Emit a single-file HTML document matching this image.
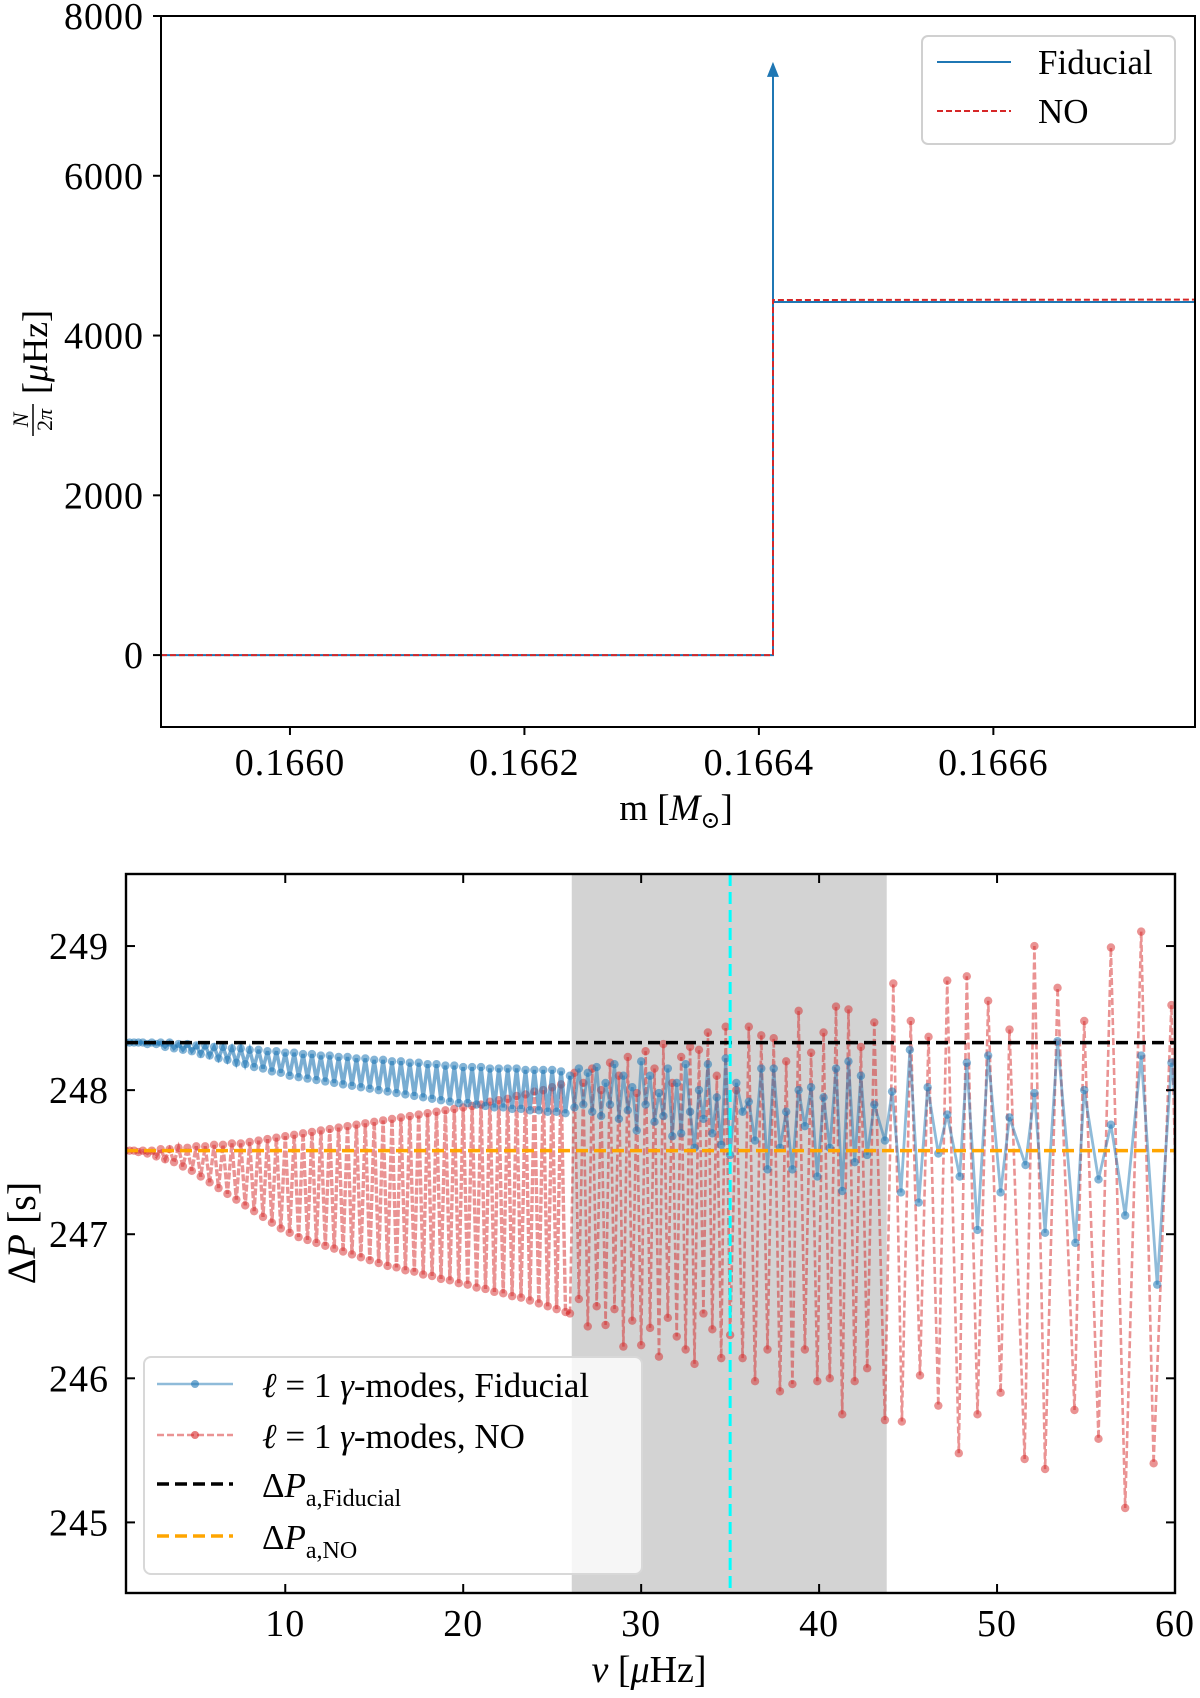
<!DOCTYPE html>
<html><head><meta charset="utf-8">
<style>
html,body{margin:0;padding:0;background:#fff;}
svg{display:block;font-family:"Liberation Serif","DejaVu Serif",serif;}
</style></head>
<body>
<svg id="fig" width="1200" height="1698" viewBox="0 0 1200 1698" xmlns="http://www.w3.org/2000/svg">
  <g id="top"></g>
  <g id="bot"></g>
</svg>
<script>
// ---------- Top panel data ----------
const topXTicks = [0.1660, 0.1662, 0.1664, 0.1666];
const topXTickLabels = ["0.1660", "0.1662", "0.1664", "0.1666"];
const topYTicks = [0, 2000, 4000, 6000, 8000];
const topYTickLabels = ["0", "2000", "4000", "6000", "8000"];
const fidMass = [0.16589, 0.166412, 0.166412, 0.16678];
const fidN = [0, 0, 4420, 4420];
const noMass = [0.16589, 0.166412, 0.166412, 0.16678];
const noN = [0, 0, 4445, 4450];
const fidSpikeMass = [0.166412, 0.166412];
const fidSpikeN = [4420, 7400];

// ---------- Bottom panel data ----------
const botXTicks = [10, 20, 30, 40, 50, 60];
const botXTickLabels = ["10", "20", "30", "40", "50", "60"];
const botYTicks = [245, 246, 247, 248, 249];
const botYTickLabels = ["245", "246", "247", "248", "249"];
const bandRange = [26.1, 43.8];
const cyanNu = 35.0;
const dPaFid = 248.33;
const dPaNO = 247.58;

const nuDense = [1,1.25,1.5,1.75,2,2.25,2.5,2.75,3,3.25,3.5,3.75,4,4.25,4.5,4.75,5,5.25,5.5,5.75,6,6.25,6.5,6.75,7,7.25,7.5,7.75,8,8.25,8.5,8.75,9,9.25,9.5,9.75,10,10.25,10.5,10.75,11,11.25,11.5,11.75,12,12.25,12.5,12.75,13,13.25,13.5,13.75,14,14.25,14.5,14.75,15,15.25,15.5,15.75,16,16.25,16.5,16.75,17,17.25,17.5,17.75,18,18.25,18.5,18.75,19,19.25,19.5,19.75,20,20.25,20.5,20.75,21,21.25,21.5,21.75,22,22.25,22.5,22.75,23,23.25,23.5,23.75,24,24.25,24.5,24.75,25,25.25,25.5,25.75];
const fidDense = [248.33,248.33,248.33,248.33, 248.33,248.32,248.33,248.32, 248.33,248.30,248.33,248.29, 248.32,248.28,248.32,248.27, 248.31,248.25,248.31,248.24, 248.30,248.22,248.30,248.21, 248.29,248.19,248.29,248.18, 248.28,248.16,248.28,248.15, 248.27,248.13,248.27,248.12, 248.26,248.10,248.26,248.09, 248.25,248.08,248.25,248.07, 248.24,248.06,248.24,248.05, 248.23,248.04,248.23,248.03, 248.22,248.02,248.22,248.01, 248.21,248.00,248.21,247.99, 248.20,247.98,248.20,247.97, 248.19,247.96,248.19,247.95, 248.18,247.94,248.18,247.93, 248.17,247.92,248.17,247.91, 248.16,247.91,248.16,247.90, 248.16,247.89,248.15,247.88, 248.15,247.88,248.15,247.87, 248.15,247.87,248.14,247.86, 248.14,247.86,248.14,247.85, 248.14,247.85,248.13,247.84];
const noDense = [247.58,247.58,247.58,247.57, 247.58,247.56,247.58,247.54, 247.59,247.52,247.59,247.50, 247.60,247.47,247.60,247.44, 247.61,247.40,247.61,247.36, 247.62,247.32,247.62,247.28, 247.63,247.24,247.63,247.20, 247.64,247.16,247.65,247.12, 247.66,247.08,247.67,247.04, 247.68,247.01,247.69,246.98, 247.70,246.96,247.71,246.94, 247.72,246.92,247.73,246.90, 247.74,246.88,247.75,246.86, 247.76,246.84,247.77,246.82, 247.78,246.80,247.79,246.78, 247.80,246.77,247.81,246.75, 247.82,246.74,247.83,246.72, 247.84,246.71,247.85,246.69, 247.86,246.68,247.87,246.66, 247.88,246.65,247.89,246.63, 247.90,246.62,247.92,246.60, 247.93,246.59,247.94,246.57, 247.96,246.56,247.97,246.54, 247.99,246.52,248.00,246.50, 248.02,246.48,248.04,246.46];

const nuSparse = [26,26.25,26.5,26.75,27,27.25,27.5,27.75,28,28.25,28.5,28.75,29,29.25,29.5,29.75,30,30.25,30.5,30.75,31,31.25,31.5,31.75,32,32.25,32.5,32.75,33,33.25,33.5,33.75,34,34.25,34.5,34.75,35,35.35,35.7,36.05,36.4,36.75,37.1,37.45,37.8,38.15,38.5,38.85,39.2,39.55,39.9,40.25,40.6,40.95,41.3,41.65,42,42.35,42.7,43.1,43.7,44.17,44.65,45.15,45.67,46.15,46.7,47.2,47.85,48.3,48.9,49.5,50.2,50.7,51.55,52.1,52.7,53.4,54.35,54.9,55.7,56.4,57.2,58.1,58.8,59.8,60.3];
const noSparse = [246.45,248.12,246.55,248.05,246.36,248.15,246.50,248.00,246.37,248.19,246.48,248.10,246.22,248.23,246.40,247.98,246.23,248.27,246.35,248.15,246.15,248.32,246.42,248.05,246.29,248.23,246.20,248.30,246.10,248.28,246.45,248.40,246.34,248.10,246.14,248.44,246.30,248.00,246.14,248.44,245.98,248.38,246.20,248.36,245.91,248.20,245.96,248.55,246.20,248.26,245.98,248.40,246.00,248.58,245.75,248.56,245.98,248.30,246.07,248.47,245.71,248.74,245.70,248.48,246.02,248.37,245.81,248.76,245.48,248.79,245.75,248.62,245.90,248.42,245.44,249.00,245.37,248.71,245.78,248.48,245.58,248.99,245.10,249.10,245.41,248.59,246.00];
const nuFidSparse = [26,26.25,26.5,26.75,27,27.25,27.5,27.75,28,28.25,28.5,28.75,29,29.25,29.5,29.75,30,30.25,30.5,30.75,31,31.25,31.5,31.75,32,32.25,32.5,32.75,33,33.25,33.5,33.75,34,34.25,34.5,34.75,35,35.35,35.7,36.05,36.4,36.75,37.1,37.45,37.8,38.15,38.5,38.85,39.2,39.55,39.9,40.25,40.6,40.95,41.3,41.65,42,42.35,42.7,43.1,43.7,44.1,44.6,45.1,45.6,46.1,46.7,47.2,47.9,48.3,48.9,49.5,50.2,50.7,51.6,52.1,52.7,53.4,54.4,54.9,55.7,56.4,57.2,58.1,59.0,59.8,60.3];
const fidSparse = [248.10,247.88,248.15,247.90,248.12,247.85,248.16,247.82,248.05,247.90,248.18,247.80,248.10,247.86,248.02,247.72,248.20,247.90,248.10,247.78,247.98,247.82,248.15,247.68,248.05,247.70,248.18,247.85,247.60,248.00,247.80,248.18,247.70,247.95,247.62,248.22,247.55,248.05,247.85,247.92,247.65,248.15,247.45,248.15,247.60,247.85,247.45,248.00,247.75,248.02,247.40,247.95,247.60,248.15,247.30,248.20,247.50,248.10,247.55,247.90,247.65,247.99,247.29,248.28,247.22,248.02,247.56,247.83,247.40,248.19,247.03,248.24,247.29,247.81,247.48,247.98,247.01,248.34,246.94,248.00,247.38,247.76,247.13,248.24,246.65,248.19,247.60];

const NS = "http://www.w3.org/2000/svg";
function mk(parent, tag, attrs) {
  const e = document.createElementNS(NS, tag);
  for (const k in attrs) e.setAttribute(k, attrs[k]);
  parent.appendChild(e);
  return e;
}

// ================= TOP PANEL =================
(function(){
  const g = document.getElementById('top');
  const L = 161, R = 1195, T = 16, B = 727;
  const x0 = 0.16589, x1 = 0.166772, y0 = -900, y1 = 8000;
  const sx = v => L + (v - x0) / (x1 - x0) * (R - L);
  const sy = v => B - (v - y0) / (y1 - y0) * (B - T);

  const clip = mk(g, 'clipPath', {id: 'clipTop'});
  mk(clip, 'rect', {x: L, y: T, width: R - L, height: B - T});

  const toPts = (xs, ys) => xs.map((v, i) => sx(v).toFixed(1) + ',' + sy(ys[i]).toFixed(1)).join(' ');
  const fl = mk(g, 'polyline', {points: toPts(fidMass, fidN), fill: 'none', stroke: '#1f77b4', 'stroke-width': 2, 'clip-path': 'url(#clipTop)'});
  
  
  const sp = mk(g, 'polyline', {points: toPts(fidSpikeMass, fidSpikeN), fill: 'none', stroke: '#1f77b4', 'stroke-width': 2});
  
  
  const ax = sx(fidSpikeMass[1]), ay = sy(fidSpikeN[1]);
  const ar = mk(g, 'polygon', {points: `${ax-6},${ay+13} ${ax+6},${ay+13} ${ax},${ay-2}`, fill: '#1f77b4'});
  
  
  const nl = mk(g, 'polyline', {points: toPts(noMass, noN), fill: 'none', stroke: '#d62728', 'stroke-width': 2, 'stroke-dasharray': '6,3', 'clip-path': 'url(#clipTop)'});
  
  

  const fr = mk(g, 'rect', {x: L, y: T, width: R - L, height: B - T, fill: 'none', stroke: '#000', 'stroke-width': 2});
  
  

  topXTicks.forEach((v, i) => {
    const x = sx(v);
    const t = mk(g, 'line', {x1: x, y1: B, x2: x, y2: B + 8, stroke: '#000', 'stroke-width': 2});
    
    
    const lb = mk(g, 'text', {x: x, y: 775, 'text-anchor': 'middle', 'font-size': 38, 'letter-spacing': 1});
    lb.textContent = topXTickLabels[i];
    
    
  });
  topYTicks.forEach((v, i) => {
    const y = sy(v);
    const t = mk(g, 'line', {x1: L - 8, y1: y, x2: L, y2: y, stroke: '#000', 'stroke-width': 2});
    
    
    const lb = mk(g, 'text', {x: 144, y: y + 13, 'text-anchor': 'end', 'font-size': 38, 'letter-spacing': 1});
    lb.textContent = topYTickLabels[i];
    
    
  });
})();
</script>
<script>
// ================= BOTTOM PANEL =================
(function(){
  const g = document.getElementById('bot');
  const L = 126, R = 1175, T = 874, B = 1593;
  const x0 = 1.05, x1 = 60, y0 = 244.51, y1 = 249.5;
  const sx = v => L + (v - x0) / (x1 - x0) * (R - L);
  const sy = v => B - (v - y0) / (y1 - y0) * (B - T);

  const clip = mk(g, 'clipPath', {id: 'clipBot'});
  mk(clip, 'rect', {x: L, y: T, width: R - L, height: B - T});

  const band = mk(g, 'rect', {x: sx(bandRange[0]), y: T, width: sx(bandRange[1]) - sx(bandRange[0]), height: B - T, fill: '#d3d3d3'});
  
  

  const pts = (xs, ys) => xs.map((v, i) => sx(v).toFixed(1) + ',' + sy(ys[i]).toFixed(1)).join(' ');
  const nD = nuDense.length;
  const noNu = nuDense.concat(nuSparse), noVal = noDense.concat(noSparse);
  const fNu = nuDense.concat(nuFidSparse), fVal = fidDense.concat(fidSparse);

  const cg = mk(g, 'g', {'clip-path': 'url(#clipBot)'});
  const nl1 = mk(cg, 'polyline', {points: pts(noNu.slice(0, nD + 1), noVal.slice(0, nD + 1)), fill: 'none', stroke: 'rgba(214,39,40,0.5)', 'stroke-width': 3.4, 'stroke-dasharray': '7,2'});
  
  
  const nl = mk(cg, 'polyline', {points: pts(noNu.slice(nD), noVal.slice(nD)), fill: 'none', stroke: 'rgba(214,39,40,0.5)', 'stroke-width': 2.6, 'stroke-dasharray': '7,3'});
  
  
  noNu.forEach((v, i) => {
    const c = mk(cg, 'circle', {cx: sx(v), cy: sy(noVal[i]), r: 4.2, fill: 'rgba(214,39,40,0.5)'});
    
    
  });
  const fl1 = mk(cg, 'polyline', {points: pts(fNu.slice(0, nD + 1), fVal.slice(0, nD + 1)), fill: 'none', stroke: 'rgba(31,119,180,0.6)', 'stroke-width': 3.6});
  
  
  const fl = mk(cg, 'polyline', {points: pts(fNu.slice(nD), fVal.slice(nD)), fill: 'none', stroke: 'rgba(31,119,180,0.5)', 'stroke-width': 2.8});
  
  
  fNu.forEach((v, i) => {
    const c = mk(cg, 'circle', {cx: sx(v), cy: sy(fVal[i]), r: 4.2, fill: 'rgba(31,119,180,0.55)'});
    
    
  });

  const hb = mk(g, 'line', {x1: L, y1: sy(dPaFid), x2: R, y2: sy(dPaFid), stroke: '#000', 'stroke-width': 3.5, 'stroke-dasharray': '12,6'});
  
  
  const ho = mk(g, 'line', {x1: L, y1: sy(dPaNO), x2: R, y2: sy(dPaNO), stroke: '#ffa500', 'stroke-width': 3.5, 'stroke-dasharray': '12,6'});
  
  
  const cy = mk(g, 'line', {x1: sx(cyanNu), y1: T, x2: sx(cyanNu), y2: B, stroke: '#00ffff', 'stroke-width': 3, 'stroke-dasharray': '12,6'});
  
  

  const fr = mk(g, 'rect', {x: L, y: T, width: R - L, height: B - T, fill: 'none', stroke: '#000', 'stroke-width': 2.4});
  
  

  botXTicks.forEach((v, i) => {
    const x = sx(v);
    const t1 = mk(g, 'line', {x1: x, y1: B, x2: x, y2: B - 9, stroke: '#000', 'stroke-width': 2});
    
    
    const t2 = mk(g, 'line', {x1: x, y1: T, x2: x, y2: T + 9, stroke: '#000', 'stroke-width': 2});
    
    
    const lb = mk(g, 'text', {x: x, y: 1636, 'text-anchor': 'middle', 'font-size': 38, 'letter-spacing': 1});
    lb.textContent = botXTickLabels[i];
    
    
  });
  botYTicks.forEach((v, i) => {
    const y = sy(v);
    const t1 = mk(g, 'line', {x1: L, y1: y, x2: L + 9, y2: y, stroke: '#000', 'stroke-width': 2});
    
    
    const t2 = mk(g, 'line', {x1: R, y1: y, x2: R - 9, y2: y, stroke: '#000', 'stroke-width': 2});
    
    
    const lb = mk(g, 'text', {x: 109, y: y + 13, 'text-anchor': 'end', 'font-size': 38, 'letter-spacing': 1});
    lb.textContent = botYTickLabels[i];
    
    
  });
})();
</script>
<script>
// static labels & legends
(function(){
  const svg = document.getElementById('fig');
  const s = `
  <text x="676" y="820" text-anchor="middle" font-size="37">m [<tspan font-style="italic">M</tspan><tspan font-size="24" dy="8">⊙</tspan><tspan dy="-8">]</tspan></text>
  <g transform="translate(36,372) rotate(-90)">
    <text x="-48" y="-8" text-anchor="middle" font-size="22" font-style="italic">N</text>
    <line x1="-64" y1="-3" x2="-32" y2="-3" stroke="#000" stroke-width="1.5"/>
    <text x="-48" y="16" text-anchor="middle" font-size="22">2<tspan font-style="italic">π</tspan></text>
    <text x="-22" y="11" font-size="36">[<tspan font-style="italic">μ</tspan>Hz]</text>
  </g>
  <g>
    <rect x="922" y="36" width="253" height="108" rx="6" fill="rgba(255,255,255,0.85)" stroke="#d0d0d0" stroke-width="2"/>
    <line x1="937" y1="62" x2="1011" y2="62" stroke="#1f77b4" stroke-width="2"/>
    <text x="1038" y="74" font-size="35">Fiducial</text>
    <line x1="937" y1="111" x2="1011" y2="111" stroke="#d62728" stroke-width="2" stroke-dasharray="6,3"/>
    <text x="1038" y="123" font-size="35">NO</text>
  </g>
  <text x="649" y="1682" text-anchor="middle" font-size="38"><tspan font-style="italic">ν</tspan> [<tspan font-style="italic">μ</tspan>Hz]</text>
  <text transform="translate(35,1233) rotate(-90)" text-anchor="middle" font-size="40">Δ<tspan font-style="italic">P</tspan> [s]</text>
  <g>
    <rect x="144" y="1357" width="498" height="217" rx="7" fill="rgba(255,255,255,0.8)" stroke="#d8d8d8" stroke-width="2"/>
    <line x1="157" y1="1384" x2="233" y2="1384" stroke="rgba(31,119,180,0.5)" stroke-width="2.6"/>
    <circle cx="195" cy="1384" r="4" fill="rgba(31,119,180,0.6)"/>
    <text x="262" y="1397" font-size="35"><tspan font-style="italic">ℓ</tspan> = 1 <tspan font-style="italic">γ</tspan>-modes, Fiducial</text>
    <line x1="157" y1="1435" x2="233" y2="1435" stroke="rgba(214,39,40,0.5)" stroke-width="2.4" stroke-dasharray="7,3"/>
    <circle cx="195" cy="1435" r="4" fill="rgba(214,39,40,0.6)"/>
    <text x="262" y="1448" font-size="35"><tspan font-style="italic">ℓ</tspan> = 1 <tspan font-style="italic">γ</tspan>-modes, NO</text>
    <line x1="157" y1="1484" x2="233" y2="1484" stroke="#000" stroke-width="3.5" stroke-dasharray="12,6"/>
    <text x="262" y="1497" font-size="35">Δ<tspan font-style="italic">P</tspan><tspan font-size="24" dy="9">a,Fiducial</tspan></text>
    <line x1="157" y1="1536" x2="233" y2="1536" stroke="#ffa500" stroke-width="3.5" stroke-dasharray="12,6"/>
    <text x="262" y="1549" font-size="35">Δ<tspan font-style="italic">P</tspan><tspan font-size="24" dy="9">a,NO</tspan></text>
  </g>`;
  const tmp = document.createElementNS(NS, 'g');
  tmp.innerHTML = s;
  svg.appendChild(tmp);
})();
</script>
</body></html>
